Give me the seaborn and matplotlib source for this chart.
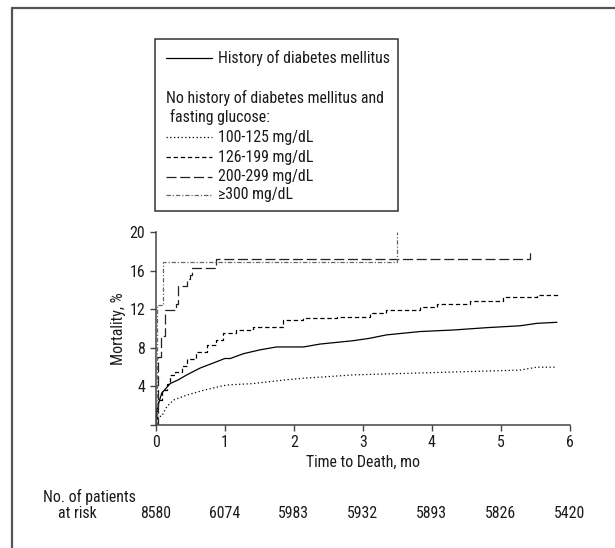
"""Kaplan-Meier style mortality curves by diabetes / fasting glucose group."""

import matplotlib

matplotlib.use("Agg")
import matplotlib.pyplot as plt
import matplotlib.transforms as mtransforms
import pandas as pd
import seaborn as sns
from matplotlib import font_manager
from matplotlib.lines import Line2D
from matplotlib.patches import Rectangle

# --- data ---
dm_t = [0, 0.014, 0.087, 0.21, 0.33, 0.45, 0.64, 0.93, 1.0, 1.08, 1.27, 1.51, 1.75,
        2.14, 2.38, 2.86, 3.10, 3.34, 3.83, 4.31, 4.79, 5.28, 5.52, 5.81]
dm_v = [0, 1.6, 3.3, 4.3, 4.7, 5.2, 5.9, 6.7, 6.9, 6.9, 7.4, 7.8, 8.1,
        8.1, 8.4, 8.75, 9.0, 9.35, 9.7, 9.86, 10.1, 10.3, 10.55, 10.66]

g100_t = [0, 0.024, 0.087, 0.16, 0.26, 0.45, 0.69, 0.93, 1.03, 1.41, 1.90, 2.14,
          2.86, 3.34, 4.31, 5.28, 5.52, 5.81]
g100_v = [0, 0.9, 0.9, 1.9, 2.6, 3.1, 3.6, 4.0, 4.15, 4.3, 4.7, 4.85,
          5.2, 5.3, 5.5, 5.7, 6.0, 6.0]

g126_t = [0, 0.014, 0.039, 0.087, 0.16, 0.21, 0.28, 0.38, 0.45, 0.59, 0.74, 0.88,
          0.98, 1.17, 1.41, 1.75, 1.85, 2.14, 2.62, 3.10, 3.34, 3.83, 4.07, 4.55,
          5.03, 5.52, 5.85]
g126_v = [0, 1.9, 2.6, 3.6, 4.3, 5.2, 5.5, 6.1, 6.9, 7.6, 8.3, 8.8,
          9.5, 9.86, 10.2, 10.2, 10.9, 11.07, 11.2, 11.6, 11.9, 12.2, 12.6, 12.9,
          13.25, 13.5, 13.5]

g200_t = [0, 0.03, 0.08, 0.13, 0.30, 0.33, 0.45, 0.50, 0.52, 0.88, 5.42]
g200_v = [0, 7.1, 9.2, 11.9, 12.6, 14.4, 15.2, 15.6, 16.3, 17.2, 18.3]

g300_t = [0, 0.015, 0.10, 3.49]
g300_v = [0, 12.5, 16.9, 20.0]

risk_months = [0, 1, 2, 3, 4, 5, 6]
risk_counts = ["8580", "6074", "5983", "5932", "5893", "5826", "5420"]
x_ticks = [0, 1, 2, 3, 4, 5, 6]
y_ticks = [0, 4, 8, 12, 16, 20]

legend_labels = [
    "History of diabetes mellitus",
    "100-125 mg/dL",
    "126-199 mg/dL",
    "200-299 mg/dL",
    "\u2265300 mg/dL",
]

sns.set_style("ticks")
installed = {f.name for f in font_manager.fontManager.ttflist}
narrow = [f for f in ["Roboto Condensed", "Liberation Sans Narrow", "Liberation Sans"]
          if f in installed]
plt.rcParams["font.family"] = narrow + ["DejaVu Sans"]
FS = 11.4 if narrow and narrow[0] != "Liberation Sans" else 10.5
plt.rcParams["font.size"] = FS
TXT = "#1a1a1a"

W, H = 615, 548
fig = plt.figure(figsize=(W / 100, H / 100), dpi=100)


def fx(px):
    return px / W


def fy(py):
    return 1 - py / H


# page-style frame (top and left rule)
fig.add_artist(Line2D([fx(12), fx(615)], [fy(8), fy(8)], color="#555555", lw=1.6))
fig.add_artist(Line2D([fx(12), fx(12)], [fy(8), fy(548)], color="#555555", lw=1.6))

ax = fig.add_axes([fx(155.7), fy(425), fx(570 - 155.7), (425 - 232.3) / H])

styles = {
    "dm": dict(color="black", lw=0.9, linestyle="-"),
    "g100": dict(color="black", lw=0.9, linestyle=(0, (1, 2))),
    "g126": dict(color="black", lw=0.9, linestyle=(0, (3.5, 2.2))),
    "g200": dict(color="#222222", lw=0.9, linestyle=(0, (8, 3))),
    "g300": dict(color="#666666", lw=0.9, linestyle=(0, (3.5, 1.5, 1, 1.5))),
}

series = [
    ("dm", dm_t, dm_v, None),
    ("g100", g100_t, g100_v, None),
    ("g126", g126_t, g126_v, "steps-post"),
    ("g200", g200_t, g200_v, "steps-post"),
    ("g300", g300_t, g300_v, "steps-post"),
]
for key, t, v, ds in series:
    df = pd.DataFrame({"t": t, "v": v})
    kw = dict(styles[key])
    if ds:
        kw["drawstyle"] = ds
    sns.lineplot(data=df, x="t", y="v", ax=ax, estimator=None, errorbar=None,
                 sort=False, **kw)

ax.set_xlim(0, 6)
ax.set_ylim(0, 20)
ax.set_xticks(x_ticks)
ax.set_yticks(y_ticks)
ax.set_yticklabels([""] + [str(y) for y in y_ticks[1:]])
ax.set_xlabel("Time to Death, mo", fontsize=FS, labelpad=3, color=TXT)
ax.set_ylabel("Mortality, %", fontsize=FS, labelpad=2.5, color=TXT)
ax.tick_params(labelsize=FS, length=4.5, width=1, color="#444444", pad=3,
               labelcolor=TXT)
for s in ["left", "bottom"]:
    ax.spines[s].set_linewidth(1.1)
    ax.spines[s].set_color("#444444")
sns.despine(ax=ax)

# legend box
fig.add_artist(Rectangle((fx(155), fy(210.5)), fx(398 - 155), (210.5 - 39) / H,
                         fill=False, edgecolor="#333333", lw=1.1))
leg_rows = [58.3, 137.3, 157.3, 176.5, 195.0]
leg_keys = ["dm", "g100", "g126", "g200", "g300"]
for key, label, py in zip(leg_keys, legend_labels, leg_rows):
    kw = styles[key]
    fig.add_artist(Line2D([fx(166), fx(212)], [fy(py), fy(py)], color=kw["color"],
                          lw=kw["lw"], linestyle=kw["linestyle"]))
    fig.text(fx(218.5), fy(py), label, fontsize=FS, va="center", ha="left", color=TXT)
fig.text(fx(166), fy(98.3), "No history of diabetes mellitus and", fontsize=FS,
         va="center", ha="left", color=TXT)
fig.text(fx(170), fy(117.3), "fasting glucose:", fontsize=FS, va="center",
         ha="left", color=TXT)

# numbers at risk, under each month tick
fig.text(fx(43), fy(497), "No. of patients", fontsize=FS, va="center", ha="left",
         color=TXT)
fig.text(fx(58), fy(513), "at risk", fontsize=FS, va="center", ha="left", color=TXT)
risk_tr = mtransforms.blended_transform_factory(ax.transData, fig.transFigure)
for m, n in zip(risk_months, risk_counts):
    ax.text(m, fy(513), n, fontsize=FS, va="center", ha="center", color=TXT,
            transform=risk_tr, clip_on=False)

fig.savefig("out.png", dpi=100)
